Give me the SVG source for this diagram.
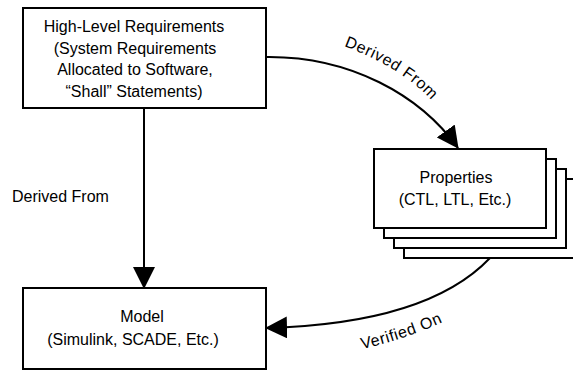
<svg xmlns="http://www.w3.org/2000/svg" width="573" height="371" viewBox="0 0 573 371">
  <style>
    .box { fill: #fff; stroke: #000; stroke-width: 2; }
    .wire { fill: none; stroke: #000; stroke-width: 2; }
    text { font-family: "Liberation Sans", Arial, Helvetica, sans-serif; font-size: 16px; fill: #000; }
    .c { text-anchor: middle; }
    .arc { letter-spacing: 0.6px; }
  </style>
  <defs>
    <marker id="arrow" markerUnits="userSpaceOnUse" markerWidth="22" markerHeight="22" viewBox="0 0 22 22" refX="21" refY="11" orient="auto">
      <path d="M0,0 L22,11 L0,22 Z" fill="#000"/>
    </marker>
    <!-- baselines for the curved connector labels -->
    <path id="derivedPath" d="M344,46 Q408,70 438,108"/>
    <path id="verifiedPath" d="M362,349 Q405,340 452,318"/>
  </defs>
  <rect width="573" height="371" fill="#fff"/>

  <g id="hlr">
    <rect class="box" x="23" y="8" width="243" height="100"/>
    <text class="c" x="134" y="32">High-Level Requirements</text>
    <text class="c" x="135" y="54">(System Requirements</text>
    <text class="c" x="135" y="75">Allocated to Software,</text>
    <text class="c" x="134" y="97">“Shall” Statements)</text>
  </g>

  <g id="properties">
    <rect class="box" x="404" y="179" width="172" height="79"/>
    <rect class="box" x="394" y="169" width="172" height="79"/>
    <rect class="box" x="384" y="159" width="172" height="79"/>
    <rect class="box" x="374" y="149" width="172" height="79"/>
    <text class="c" x="456" y="183">Properties</text>
    <text class="c" x="455" y="205">(CTL, LTL, Etc.)</text>
  </g>

  <g id="model">
    <rect class="box" x="23" y="288" width="243" height="81"/>
    <text class="c" x="142" y="322">Model</text>
    <text class="c" x="133" y="345">(Simulink, SCADE, Etc.)</text>
  </g>

  <g id="connectors">
    <path class="wire" d="M144,108 L144,288" marker-end="url(#arrow)"/>
    <path class="wire" d="M266,57 C350,56 420,95 458,148" marker-end="url(#arrow)"/>
    <path class="wire" d="M490,258 C450,300 380,325 266,328" marker-end="url(#arrow)"/>
    <text x="12" y="202">Derived From</text>
    <text class="arc"><textPath href="#derivedPath">Derived From</textPath></text>
    <text class="arc"><textPath href="#verifiedPath">Verified On</textPath></text>
  </g>
</svg>
